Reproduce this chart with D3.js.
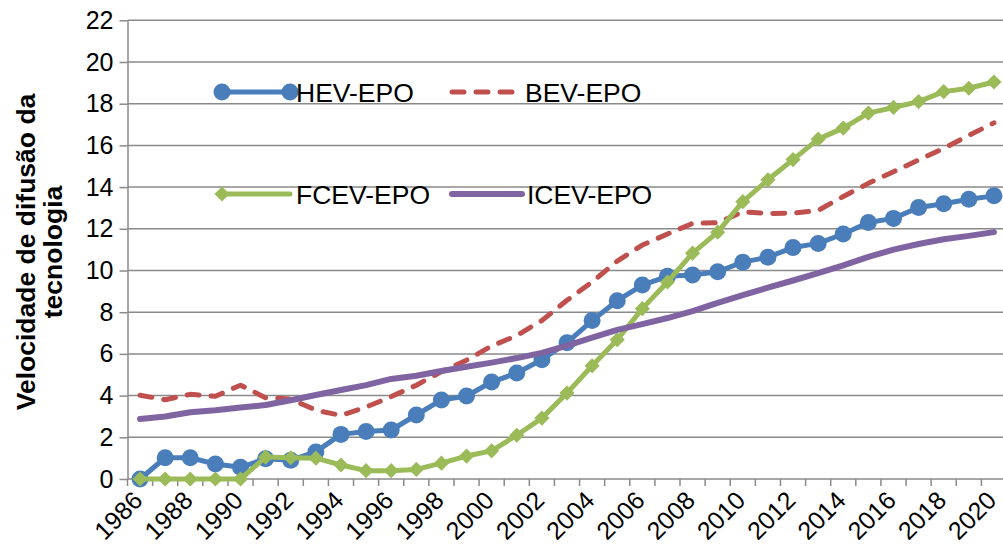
<!DOCTYPE html>
<html>
<head>
<meta charset="utf-8">
<script src="https://cdn.jsdelivr.net/npm/d3@7"></script>
<style>
  html, body { margin: 0; padding: 0; background: #ffffff; }
  svg { display: block; font-family: "Liberation Sans", Arial, sans-serif; }
</style>
</head>
<body>
<svg id="chart" width="1003" height="554"></svg>
<script>
// Categories (years) and y-axis ticks
const years = [1986, 1987, 1988, 1989, 1990, 1991, 1992, 1993, 1994, 1995,
               1996, 1997, 1998, 1999, 2000, 2001, 2002, 2003, 2004, 2005,
               2006, 2007, 2008, 2009, 2010, 2011, 2012, 2013, 2014, 2015,
               2016, 2017, 2018, 2019, 2020];
const yearLabels = [1986, 1988, 1990, 1992, 1994, 1996, 1998, 2000, 2002,
                    2004, 2006, 2008, 2010, 2012, 2014, 2016, 2018, 2020];
const yTicks = [0, 2, 4, 6, 8, 10, 12, 14, 16, 18, 20, 22];

// Series values
const hevEpo = [0, 1.02, 1.02, 0.72, 0.56, 0.97, 0.9, 1.3, 2.14, 2.28,
                2.35, 3.07, 3.79, 3.98, 4.65, 5.08, 5.72, 6.54, 7.6, 8.55,
                9.3, 9.72, 9.78, 9.94, 10.4, 10.64, 11.1, 11.3, 11.75, 12.3,
                12.5, 13.02, 13.2, 13.42, 13.58];
const bevEpo = [4.02, 3.8, 4.06, 3.97, 4.5, 3.9, 3.84, 3.3, 3.05, 3.45,
                3.95, 4.5, 5.15, 5.7, 6.38, 6.88, 7.6, 8.57, 9.45, 10.45,
                11.22, 11.75, 12.26, 12.29, 12.82, 12.73, 12.75, 12.88, 13.55, 14.18,
                14.74, 15.3, 15.86, 16.48, 17.08];
const fcevEpo = [0, 0, 0, 0, 0, 1.05, 1.02, 1.0, 0.67, 0.4,
                 0.4, 0.46, 0.76, 1.1, 1.35, 2.1, 2.92, 4.12, 5.43, 6.68,
                 8.17, 9.45, 10.83, 11.84, 13.3, 14.35, 15.32, 16.3, 16.83, 17.55,
                 17.82, 18.1, 18.58, 18.74, 19.04];
const icevEpo = [2.88, 3.0, 3.2, 3.3, 3.43, 3.55, 3.78, 4.03, 4.27, 4.5,
                 4.8, 4.95, 5.18, 5.38, 5.58, 5.8, 6.05, 6.4, 6.78, 7.15,
                 7.43, 7.72, 8.05, 8.45, 8.82, 9.18, 9.52, 9.88, 10.25, 10.65,
                 11.0, 11.27, 11.5, 11.66, 11.84];

const seriesNames = ["HEV-EPO", "BEV-EPO", "FCEV-EPO", "ICEV-EPO"];
const yTitle = ["Velocidade de difusão da", "tecnologia"];

// Styling
const colors = { hev: "#4a7ebb", bev: "#c0504d", fcev: "#9bbb59", icev: "#8064a2" };
const gridColor = "#8a8a8a";
const tickFont = 25;

const svg = d3.select("#chart");

const plot = { left: 127.5, right: 1006.5, top: 20.3, bottom: 479 };

const x = d3.scaleBand().domain(years).range([plot.left, plot.right]).padding(0);
const y = d3.scaleLinear().domain([0, 22]).range([plot.bottom, plot.top]);
const cx = d => x(d) + x.bandwidth() / 2;

// Horizontal gridlines
svg.append("g")
  .selectAll("line")
  .data(yTicks.filter(t => t > 0))
  .join("line")
  .attr("x1", plot.left).attr("x2", 1003)
  .attr("y1", d => y(d)).attr("y2", d => y(d))
  .attr("stroke", gridColor).attr("stroke-width", 1.5);

// Y axis
const yAxis = d3.axisLeft(y).tickValues(yTicks).tickSize(8).tickSizeOuter(0).tickPadding(6);
const gy = svg.append("g").attr("transform", `translate(${plot.left},0)`).call(yAxis);
gy.select(".domain").attr("stroke", gridColor).attr("stroke-width", 1.5);
gy.selectAll(".tick line").attr("stroke", gridColor).attr("stroke-width", 1.5);
gy.selectAll(".tick text")
  .attr("font-size", tickFont).attr("fill", "#000")
  .attr("font-family", "Liberation Sans, Arial, sans-serif");

// X axis: tick marks at category boundaries
const boundaries = years.map(d => x(d)).concat([x(years[years.length - 1]) + x.bandwidth()]);
svg.append("line")
  .attr("x1", plot.left).attr("x2", 1003)
  .attr("y1", plot.bottom).attr("y2", plot.bottom)
  .attr("stroke", gridColor).attr("stroke-width", 1.5);
svg.append("g")
  .selectAll("line")
  .data(boundaries)
  .join("line")
  .attr("x1", d => d).attr("x2", d => d)
  .attr("y1", plot.bottom).attr("y2", plot.bottom + 7)
  .attr("stroke", gridColor).attr("stroke-width", 1.5);

svg.append("g")
  .selectAll("text")
  .data(yearLabels)
  .join("text")
  .attr("transform", d => `translate(${cx(d) + 4},${plot.bottom + 23}) rotate(-45)`)
  .attr("text-anchor", "end")
  .attr("font-size", tickFont)
  .attr("fill", "#000")
  .text(d => d);

// Y axis title
const titleG = svg.append("g").attr("transform", "translate(0,252) rotate(-90)");
titleG.selectAll("text")
  .data(yTitle)
  .join("text")
  .attr("x", 0)
  .attr("y", (d, i) => 35 + i * 27)
  .attr("text-anchor", "middle")
  .attr("font-size", 26.5)
  .attr("font-weight", "bold")
  .attr("fill", "#000")
  .text(d => d);

// Series lines
const line = d3.line().x((d, i) => cx(years[i])).y(d => y(d));

const series = [
  { key: "hev", values: hevEpo, width: 5, dash: null, marker: "circle" },
  { key: "bev", values: bevEpo, width: 5, dash: "12,12", marker: null },
  { key: "fcev", values: fcevEpo, width: 5, dash: null, marker: "diamond" },
  { key: "icev", values: icevEpo, width: 6, dash: null, marker: null }
];

const diamond = d3.symbol().type(d3.symbolSquare).size(115);

series.forEach(s => {
  const g = svg.append("g");
  g.append("path")
    .datum(s.values)
    .attr("d", line)
    .attr("fill", "none")
    .attr("stroke", colors[s.key])
    .attr("stroke-width", s.width)
    .attr("stroke-linejoin", "round")
    .attr("stroke-linecap", "round")
    .attr("stroke-dasharray", s.dash);
  if (s.marker === "circle") {
    g.selectAll("circle")
      .data(s.values)
      .join("circle")
      .attr("cx", (d, i) => cx(years[i]))
      .attr("cy", d => y(d))
      .attr("r", 8.5)
      .attr("fill", colors[s.key]);
  } else if (s.marker === "diamond") {
    g.selectAll("path.mk")
      .data(s.values)
      .join("path")
      .attr("class", "mk")
      .attr("d", diamond)
      .attr("transform", (d, i) => `translate(${cx(years[i])},${y(d)}) rotate(45)`)
      .attr("fill", colors[s.key]);
  }
});

// Legend
const legend = svg.append("g").attr("font-size", 26.5).attr("fill", "#000");
const legendItems = [
  { name: seriesNames[0], key: "hev", lx: 222, ly: 92, len: 68, tx: 296 },
  { name: seriesNames[1], key: "bev", lx: 452, ly: 92, len: 62, tx: 525 },
  { name: seriesNames[2], key: "fcev", lx: 222, ly: 194, len: 68, tx: 296 },
  { name: seriesNames[3], key: "icev", lx: 452, ly: 194, len: 70, tx: 527 }
];
legendItems.forEach(item => {
  const s = series.find(d => d.key === item.key);
  legend.append("line")
    .attr("x1", item.lx).attr("x2", item.lx + item.len)
    .attr("y1", item.ly).attr("y2", item.ly)
    .attr("stroke", colors[item.key])
    .attr("stroke-width", s.width)
    .attr("stroke-linecap", "round")
    .attr("stroke-dasharray", s.dash);
  if (s.marker === "circle") {
    legend.selectAll(null)
      .data([item.lx, item.lx + item.len])
      .join("circle")
      .attr("cx", d => d).attr("cy", item.ly).attr("r", 8.5)
      .attr("fill", colors[item.key]);
  } else if (s.marker === "diamond") {
    legend.append("path")
      .attr("d", diamond)
      .attr("transform", `translate(${item.lx},${item.ly}) rotate(45)`)
      .attr("fill", colors[item.key]);
  }
  legend.append("text")
    .attr("x", item.tx).attr("y", item.ly)
    .attr("dy", "0.36em")
    .text(item.name);
});
</script>
</body>
</html>
